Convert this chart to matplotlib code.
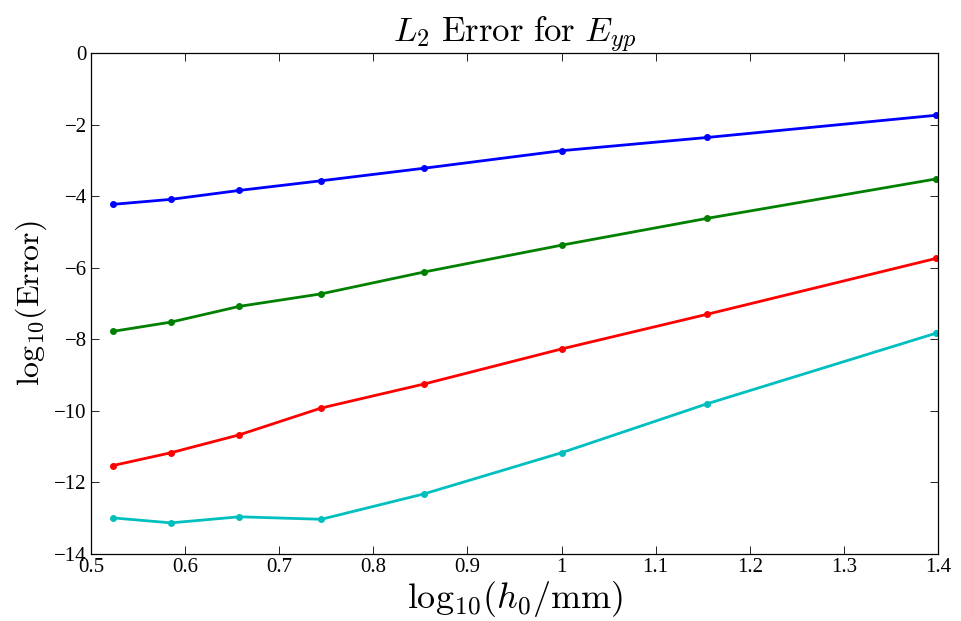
import matplotlib
matplotlib.use('Agg')
import matplotlib.pyplot as plt

# log10 of element size h0 (mm)
log_h = [0.5229, 0.5850, 0.6576, 0.7447, 0.8539, 1.0, 1.1549, 1.3979]

# log10 of L2 error, one series per order
err_blue = [-4.23, -4.09, -3.84, -3.57, -3.22, -2.73, -2.36, -1.74]
err_green = [-7.78, -7.52, -7.08, -6.73, -6.12, -5.37, -4.62, -3.52]
err_red = [-11.53, -11.17, -10.67, -9.92, -9.25, -8.27, -7.30, -5.74]
err_cyan = [-12.99, -13.13, -12.96, -13.03, -12.32, -11.17, -9.80, -7.83]

x_ticks = [0.5, 0.6, 0.7, 0.8, 0.9, 1.0, 1.1, 1.2, 1.3, 1.4]
x_tick_labels = ['0.5', '0.6', '0.7', '0.8', '0.9', '1', '1.1', '1.2', '1.3', '1.4']
y_ticks = [-14, -12, -10, -8, -6, -4, -2, 0]
y_tick_labels = ['\u221214', '\u221212', '\u221210', '\u22128', '\u22126', '\u22124', '\u22122', '0']

plt.rcParams['font.family'] = ['Liberation Serif', 'DejaVu Serif']
plt.rcParams['mathtext.fontset'] = 'cm'

fig = plt.figure(figsize=(9.61, 6.21), dpi=100)
ax = fig.add_axes([91 / 961, 1 - 554 / 621, (938 - 91) / 961, (554 - 53) / 621])

series = [
    (err_blue, '#0000ff'),
    (err_green, '#008000'),
    (err_red, '#ff0000'),
    (err_cyan, '#00bfbf'),
]
for vals, col in series:
    ax.plot(log_h, vals, color=col, linewidth=2.0, marker='.', markersize=8)

ax.set_xlim(0.5, 1.4)
ax.set_ylim(-14, 0)
ax.set_xticks(x_ticks)
ax.set_xticklabels(x_tick_labels)
ax.set_yticks(y_ticks)
ax.set_yticklabels(y_tick_labels)

ax.tick_params(direction='in', length=6, width=0.6, top=True, right=True,
               labelsize=15, pad=3)
for sp in ax.spines.values():
    sp.set_linewidth(0.9)

ax.set_title(r'$L_2\ \mathrm{Error\ for}\ E_{yp}$', fontsize=25, pad=8)
ax.set_xlabel(r'$\mathrm{log}_{10}(h_0/\mathrm{mm})$', fontsize=26, labelpad=1)
ax.set_ylabel(r'$\mathrm{log}_{10}(\mathrm{Error})$', fontsize=23, labelpad=4)

fig.savefig('out.png', dpi=100)
